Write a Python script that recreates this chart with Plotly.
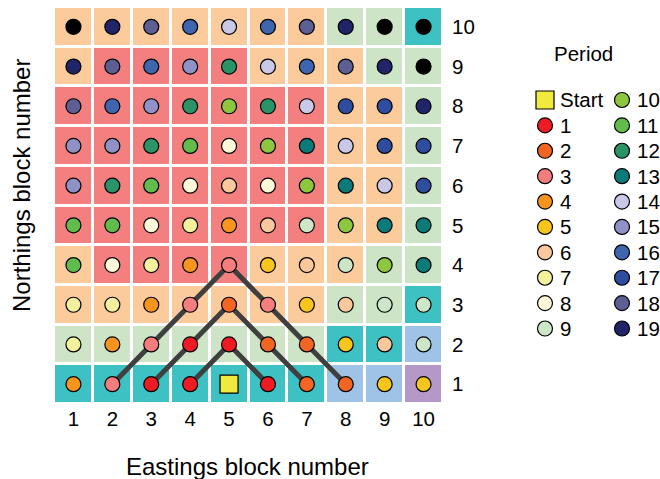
import plotly.graph_objects as go

# ---- data ----
eastings = [1, 2, 3, 4, 5, 6, 7, 8, 9, 10]
northings = [1, 2, 3, 4, 5, 6, 7, 8, 9, 10]

# period of each block, rows from northing 1 (bottom) to 10 (top); "S" = start, "X" = beyond 19
period_rows = [
    ["4", "3", "1", "1", "S", "1", "2", "2", "5", "5"],
    ["7", "4", "3", "1", "1", "2", "2", "5", "6", "9"],
    ["7", "7", "4", "3", "2", "3", "5", "6", "9", "9"],
    ["11", "8", "7", "4", "3", "5", "6", "9", "10", "13"],
    ["11", "11", "8", "7", "4", "6", "9", "10", "13", "13"],
    ["15", "12", "11", "8", "6", "8", "10", "13", "14", "17"],
    ["15", "15", "12", "11", "8", "10", "13", "14", "17", "17"],
    ["18", "16", "15", "12", "10", "12", "14", "17", "17", "19"],
    ["19", "18", "16", "15", "12", "14", "16", "18", "19", "X"],
    ["X", "19", "18", "16", "14", "16", "18", "19", "X", "X"],
]

# background zone of each block (same row order)
zone_rows = [
    ["T", "T", "T", "T", "T", "T", "T", "B", "B", "U"],
    ["G", "G", "G", "G", "G", "G", "G", "T", "T", "B"],
    ["P", "P", "P", "P", "P", "P", "P", "G", "G", "T"],
    ["P", "S", "S", "S", "S", "P", "P", "P", "G", "G"],
    ["S", "S", "S", "S", "S", "S", "S", "P", "P", "G"],
    ["S", "S", "S", "S", "S", "S", "S", "P", "P", "G"],
    ["S", "S", "S", "S", "S", "S", "S", "P", "P", "G"],
    ["S", "S", "S", "S", "S", "S", "S", "P", "P", "G"],
    ["P", "S", "S", "S", "S", "P", "P", "P", "G", "G"],
    ["P", "P", "P", "P", "P", "P", "P", "G", "G", "T"],
]
zone_names = ["P", "S", "G", "T", "B", "U"]
zone_colors = ["#FBCB9C", "#F47F7F", "#CDE5C6", "#3DC1C2", "#9FC3E7", "#B598C7"]

period_labels = ["Start", "1", "2", "3", "4", "5", "6", "7", "8", "9",
                 "10", "11", "12", "13", "14", "15", "16", "17", "18", "19"]
period_keys = ["S"] + period_labels[1:]
period_colors = ["#F0EA3E", "#ED1C24", "#F26522", "#F47E7E", "#F7941E", "#F8C51C",
                 "#FBC79D", "#F4F19E", "#FDF9D8", "#CCE6C7", "#8DC63F", "#61BC4B",
                 "#2A9468", "#0B7A79", "#C9C8E6", "#8F91C7", "#4065AF", "#2F4DA0",
                 "#5D5E94", "#212468"]
beyond_color = "#000000"

# extraction paths
path_a_x = [2, 3, 4, 5, 6, 7, 8]
path_a_y = [1, 2, 3, 4, 3, 2, 1]
path_b_x = [3, 4, 5, 6, 7]
path_b_y = [1, 2, 3, 2, 1]
path_c_x = [4, 5, 6]
path_c_y = [1, 2, 1]

FONT = "Liberation Sans, Arial, sans-serif"
TICK_SIZE = 20.5
TITLE_SIZE = 24
W, H = 660, 479


def fx(px):
    return px / W


def fy(py):
    return 1 - py / H


fig = go.Figure()

# background tiles
n = len(zone_names)
z = [[zone_names.index(v) for v in row] for row in zone_rows]
cs = []
for i, c in enumerate(zone_colors):
    cs.append([i / n, c])
    cs.append([(i + 1) / n, c])
fig.add_trace(go.Heatmap(
    x=eastings, y=northings, z=z, zmin=-0.5, zmax=n - 0.5,
    colorscale=cs, showscale=False, xgap=3, ygap=3, hoverinfo="skip",
))

# paths
for px, py in [(path_a_x, path_a_y), (path_b_x, path_b_y), (path_c_x, path_c_y)]:
    fig.add_trace(go.Scatter(x=px, y=py, mode="lines",
                             line=dict(color="#3F3F3F", width=5),
                             showlegend=False, hoverinfo="skip"))

# points per period, plus legend keys on a separate hidden axis pair
annotations = []
for idx, (key, lab, col) in enumerate(zip(period_keys, period_labels, period_colors)):
    xs, ys = [], []
    for r, row in enumerate(period_rows):
        for c, v in enumerate(row):
            if v == key:
                xs.append(eastings[c])
                ys.append(northings[r])
    is_start = key == "S"
    mk = dict(symbol="square" if is_start else "circle",
              size=18 if is_start else 15, color=col,
              line=dict(color="black", width=1.2))
    fig.add_trace(go.Scatter(x=xs, y=ys, mode="markers", name=lab,
                             marker=mk, showlegend=False))
    lcol, lrow = idx // 10, idx % 10
    fig.add_trace(go.Scatter(x=[lcol], y=[lrow], mode="markers", marker=mk,
                             xaxis="x2", yaxis="y2", showlegend=False,
                             hoverinfo="skip"))
    annotations.append(dict(text=lab, x=lcol, y=lrow, xref="x2", yref="y2",
                            xanchor="left", yanchor="middle", xshift=13,
                            showarrow=False, font=dict(size=TICK_SIZE)))

xs, ys = [], []
for r, row in enumerate(period_rows):
    for c, v in enumerate(row):
        if v == "X":
            xs.append(eastings[c])
            ys.append(northings[r])
fig.add_trace(go.Scatter(x=xs, y=ys, mode="markers", showlegend=False,
                         marker=dict(size=15, color=beyond_color,
                                     line=dict(color="black", width=1.2))))

annotations += [
    dict(text="Period", x=fx(583), y=fy(54), xref="paper", yref="paper",
         showarrow=False, font=dict(size=TICK_SIZE), xanchor="center", yanchor="middle"),
    dict(text="Eastings block number", x=fx(248), y=fy(466), xref="paper", yref="paper",
         showarrow=False, font=dict(size=TITLE_SIZE), xanchor="center", yanchor="middle"),
    dict(text="Northings block number", x=fx(21), y=fy(186), xref="paper", yref="paper",
         showarrow=False, textangle=-90, font=dict(size=TITLE_SIZE),
         xanchor="center", yanchor="middle"),
]

fig.update_layout(
    width=W, height=H,
    margin=dict(l=0, r=0, t=0, b=0, autoexpand=False),
    plot_bgcolor="white", paper_bgcolor="white",
    font=dict(family=FONT, size=TICK_SIZE, color="black"),
    showlegend=False,
    xaxis=dict(domain=[fx(54), fx(443)], range=[0.5, 10.5], tickvals=eastings,
               showgrid=False, zeroline=False, ticks="", showline=False,
               automargin=False, ticklabelstandoff=0, fixedrange=True),
    yaxis=dict(domain=[fy(404), fy(7)], range=[0.5, 10.5], tickvals=northings,
               showgrid=False, zeroline=False, side="right", ticks="",
               showline=False, automargin=False, ticklabelstandoff=8, fixedrange=True),
    xaxis2=dict(domain=[fx(520), fx(660)], range=[-0.3247, 1.4935], visible=False,
                anchor="y2", fixedrange=True),
    yaxis2=dict(domain=[fy(360), fy(60)], range=[10.24, -1.575], visible=False,
                anchor="x2", fixedrange=True),
    annotations=annotations,
)

fig.write_html(
    "out.html",
    config={"displayModeBar": False},
    post_script="document.body.style.margin='0';document.body.style.overflow='hidden';",
)
